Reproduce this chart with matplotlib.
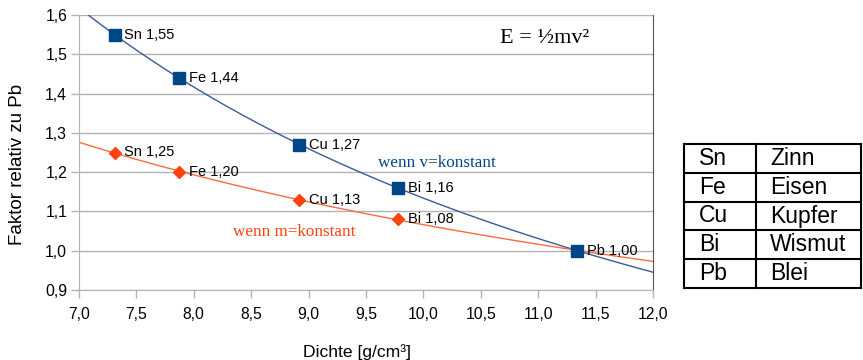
import matplotlib.pyplot as plt
import numpy as np
from matplotlib.ticker import FuncFormatter, MultipleLocator

plt.rcParams["font.family"] = ["Liberation Sans", "DejaVu Sans"]

# Data
elements = ["Sn", "Fe", "Cu", "Bi", "Pb"]
names = ["Zinn", "Eisen", "Kupfer", "Wismut", "Blei"]
density = [7.31, 7.87, 8.92, 9.78, 11.34]
factor_v_const = [1.55, 1.44, 1.27, 1.16, 1.00]
factor_m_const = [1.25, 1.20, 1.13, 1.08, 1.00]

blue = "#004586"
orange = "#ff420e"
grey = "#b3b3b3"


def power_trend(x, y, xs):
    """Power trendline like the spreadsheet does: fit log-log."""
    b, a = np.polyfit(np.log(x), np.log(y), 1)
    return np.exp(a) * xs**b


def comma(v, pos):
    return f"{v:.1f}".replace(".", ",")


fig = plt.figure(figsize=(8.63, 3.6), dpi=100)
ax = fig.add_axes([79 / 863, 1 - 290 / 360, 574 / 863, 275 / 360])

xs = np.linspace(7.0, 12.0, 200)
ax.plot(xs, power_trend(density, factor_v_const, xs), color="#3b5a9a", lw=1.0, zorder=2)
ax.plot(xs, power_trend(density, factor_m_const, xs), color="#ff6a3d", lw=1.0, zorder=2)

ax.plot(density, factor_v_const, ls="none", marker="s", ms=8.5, color=blue, zorder=3)
ax.plot(density[:-1], factor_m_const[:-1], ls="none", marker="D", ms=6.5, color=orange, zorder=3)

for el, x, y in zip(elements, density, factor_v_const):
    ax.annotate(f"{el} {y:.2f}".replace(".", ","), (x, y), xytext=(7, 0),
                textcoords="offset points", va="center", fontsize=10.5)
for el, x, y in zip(elements[:-1], density[:-1], factor_m_const[:-1]):
    ax.annotate(f"{el} {y:.2f}".replace(".", ","), (x, y), xytext=(7, 0),
                textcoords="offset points", va="center", fontsize=10.5)

ax.text(10.667, 1.541, "E = ½mv²", family="Liberation Serif", fontsize=16, va="center")
ax.text(9.604, 1.223, "wenn v=konstant", family="Liberation Serif", fontsize=12.3,
        color=blue, va="center")
ax.text(8.341, 1.048, "wenn m=konstant", family="Liberation Serif", fontsize=12.3,
        color=orange, va="center")

ax.set_xlim(7.0, 12.0)
ax.set_ylim(0.9, 1.6)
ax.xaxis.set_major_locator(MultipleLocator(0.5))
ax.yaxis.set_major_locator(MultipleLocator(0.1))
ax.xaxis.set_major_formatter(FuncFormatter(comma))
ax.yaxis.set_major_formatter(FuncFormatter(comma))
ax.tick_params(labelsize=11.3, color=grey, length=6, width=1)
ax.tick_params(axis="x", pad=6)
ax.tick_params(axis="y", pad=2.5)
ax.grid(axis="y", color=grey, lw=1)
ax.set_axisbelow(True)
ax.spines["top"].set_visible(False)
ax.spines["left"].set_color(grey)
ax.spines["bottom"].set_color(grey)
ax.spines["right"].set_color("#555555")
ax.set_xlabel("Dichte [g/cm³]", fontsize=12.6)
ax.set_ylabel("Faktor relativ zu Pb", fontsize=13.5)
ax.xaxis.set_label_coords(0.485, -0.225)
ax.xaxis.label.set_verticalalignment("center")
ax.yaxis.set_label_coords(-0.108, 0.458)
ax.yaxis.label.set_verticalalignment("center")

# element table on the right
tab = fig.add_axes([684 / 863, 1 - 288 / 360, 177 / 863, 144 / 360])
tab.set_xlim(0, 177)
tab.set_ylim(len(elements), 0)
tab.axis("off")
for i in range(len(elements) + 1):
    tab.plot([0, 177], [i, i], color="black", lw=1.5, clip_on=False)
for xv in (0, 72, 177):
    tab.plot([xv, xv], [0, len(elements)], color="black", lw=1.5, clip_on=False)
for i, (el, nm) in enumerate(zip(elements, names)):
    tab.text(15, i + 0.5, el, va="center", fontsize=16.5)
    tab.text(86, i + 0.5, nm, va="center", fontsize=16.5)

fig.savefig("out.png", dpi=100)
